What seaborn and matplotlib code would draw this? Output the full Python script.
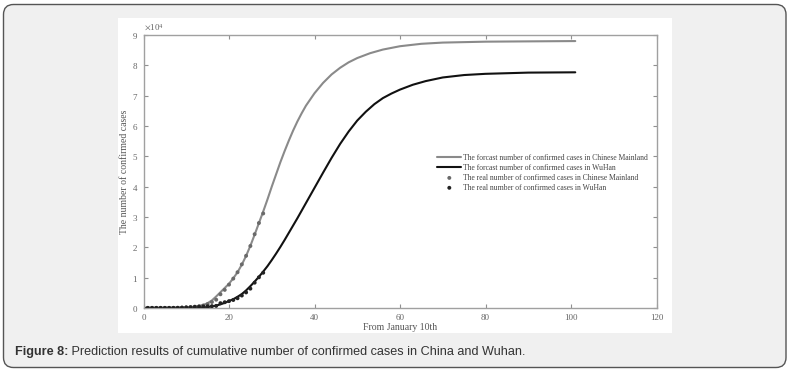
import numpy as np
import pandas as pd
import matplotlib
matplotlib.use("Agg")
import matplotlib.pyplot as plt
import seaborn as sns
from matplotlib.patches import FancyBboxPatch, Rectangle

# ---------------- data ----------------
# real cumulative confirmed cases, day 1 = January 10th
real_days = list(range(1, 29))
mainland_real = [41, 41, 41, 41, 41, 41, 45, 62, 121, 198, 291, 440, 571, 830,
                 1287, 1975, 2744, 4515, 5974, 7711, 9692, 11791, 14380, 17205,
                 20438, 24324, 28018, 31161]
wuhan_real = [41, 41, 41, 41, 41, 41, 45, 62, 121, 198, 258, 363, 425, 495,
              572, 618, 698, 1590, 1905, 2261, 2639, 3215, 4109, 5142,
              6384, 8351, 10117, 11618]

# forecast curves
ml_days = [0, 5, 10, 12, 14, 15, 16, 17, 18, 19, 20, 21, 22, 23, 24, 25, 26, 27,
           28, 29, 30, 31, 32, 33, 34, 35, 36, 37, 38, 40, 42, 44, 46, 48, 50,
           53, 56, 60, 65, 70, 80, 90, 101]
mainland_fc = [40, 60, 200, 450, 1000, 1600, 2500, 3800, 5200, 6600, 8000, 9800,
               11800, 14300, 17200, 20500, 24200, 28000, 31800, 35800, 40000,
               44000, 48000, 51700, 55200, 58500, 61500, 64200, 66700, 70800,
               74200, 77000, 79200, 81000, 82400, 84000, 85200, 86300, 87100,
               87500, 87800, 87900, 88000]
wh_days = [0, 10, 14, 15, 16, 17, 18, 19, 20, 21, 22, 23, 24, 25, 26, 27, 28, 29,
           30, 31, 32, 33, 34, 35, 36, 37, 38, 39, 40, 42, 44, 46, 48, 50, 52,
           54, 56, 58, 60, 63, 66, 70, 75, 80, 90, 101]
wuhan_fc = [40, 60, 200, 300, 500, 800, 1200, 1700, 2300, 2900, 3700, 4600,
            5800, 7200, 8700, 10300, 12000, 13800, 15800, 17900, 20100, 22400,
            24800, 27200, 29600, 32100, 34600, 37100, 39600, 44600, 49500,
            54100, 58200, 61800, 64700, 67200, 69200, 70700, 72000, 73600,
            74800, 76000, 76800, 77200, 77600, 77700]

labels = ["The forcast number of confirmed cases in Chinese Mainland",
          "The forcast number of confirmed cases in WuHan",
          "The real number of confirmed cases in Chinese Mainland",
          "The real number of confirmed cases in WuHan"]

x_ticks = [0, 20, 40, 60, 80, 100, 120]
y_ticks = [0, 10000, 20000, 30000, 40000, 50000, 60000, 70000, 80000, 90000]
caption_bold = "Figure 8:"
caption_text = " Prediction results of cumulative number of confirmed cases in China and Wuhan."

# ---------------- style ----------------
sns.set_theme(style="white")
plt.rcParams["font.family"] = ["Liberation Serif", "DejaVu Serif"]
plt.rcParams["mathtext.fontset"] = "stix"

W, H = 796, 374
fig = plt.figure(figsize=(W / 100, H / 100), dpi=100)
fig.patch.set_facecolor("white")

bg = FancyBboxPatch((0.035, 0.065), 7.825, 3.63,
                    boxstyle="round,pad=0,rounding_size=0.1",
                    transform=fig.dpi_scale_trans, facecolor="#f0f0f0",
                    edgecolor="#555555", lw=1.0, zorder=-10)
fig.patches.append(bg)
panel = Rectangle((1.18, (H - 333) / 100), 5.54, 3.15,
                  transform=fig.dpi_scale_trans, facecolor="white",
                  edgecolor="none", zorder=-9)
fig.patches.append(panel)

ax = fig.add_axes([143.5 / W, (H - 308) / H, 513 / W, 273 / H])
ax.set_facecolor("white")

gray = "#8a8a8a"
black = "#111111"
sns.lineplot(x=ml_days, y=mainland_fc, ax=ax, color=gray, lw=1.5, label=labels[0])
sns.lineplot(x=wh_days, y=wuhan_fc, ax=ax, color=black, lw=1.5, label=labels[1])
sns.scatterplot(x=real_days, y=mainland_real, ax=ax, color="#6a6a6a", s=8,
                edgecolor="none", label=labels[2], zorder=3)
sns.scatterplot(x=real_days, y=wuhan_real, ax=ax, color="#222222", s=8,
                edgecolor="none", label=labels[3], zorder=3)

ax.set_xlim(0, 120)
ax.set_ylim(0, 90000)
ax.set_xticks(x_ticks)
ax.set_yticks(y_ticks)
ax.ticklabel_format(axis="y", style="sci", scilimits=(0, 0), useMathText=True)
ax.yaxis.get_offset_text().set_fontsize(6.5)
ax.yaxis.get_offset_text().set_color("#666666")

for s in ax.spines.values():
    s.set_visible(True)
    s.set_color("#a0a0a0")
    s.set_linewidth(1.0)
ax.tick_params(direction="in", length=3, width=0.8, color="#909090",
               labelsize=6.5, labelcolor="#666666", pad=4,
               top=True, right=True, bottom=True, left=True)
ax.set_xlabel("From January 10th", fontsize=7, color="#555555", labelpad=1)
ax.set_ylabel("The number of confirmed cases", fontsize=7, color="#555555", labelpad=2)

leg = ax.legend(loc="upper right", bbox_to_anchor=(0.99, 0.575), frameon=False,
                fontsize=5.5, handlelength=3.1, handletextpad=0.3,
                labelspacing=0.25, borderaxespad=0)
for t in leg.get_texts():
    t.set_color("#444444")

# caption
t1 = fig.text(15 / W, 1 - 352 / H, caption_bold, fontsize=9.1, fontweight="bold",
              family=["Liberation Sans", "DejaVu Sans"], color="#333333", va="center")
fig.canvas.draw()
bb = t1.get_window_extent(fig.canvas.get_renderer())
fig.text(bb.x1 / W, 1 - 352 / H, caption_text, fontsize=9.1,
         family=["Liberation Sans", "DejaVu Sans"], color="#333333", va="center")

fig.savefig("out.png", dpi=100, facecolor=fig.get_facecolor())
